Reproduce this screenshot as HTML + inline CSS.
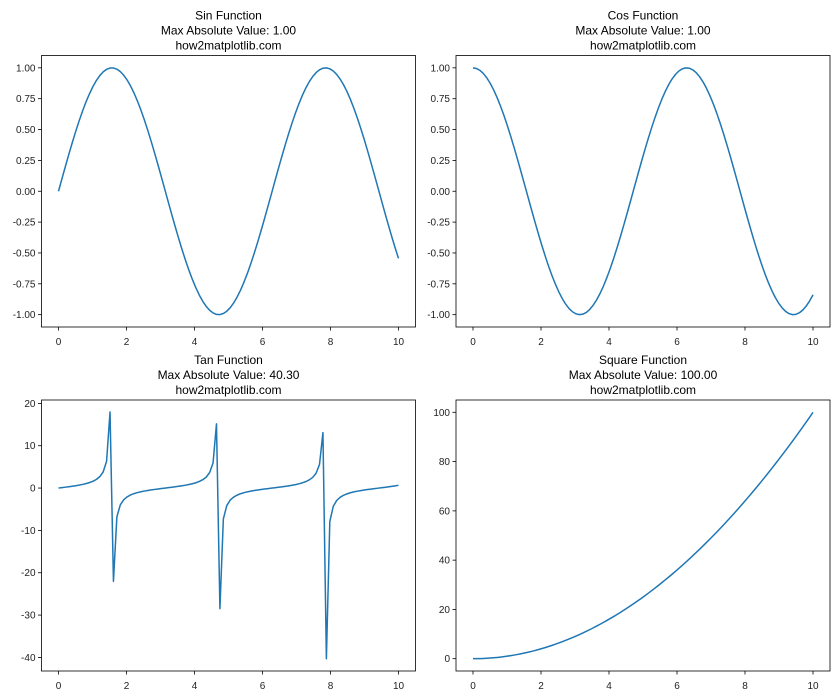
<!DOCTYPE html>
<html><head><meta charset="utf-8">
<style>
body{margin:0;background:#fff;}
svg{display:block;font-family:"Liberation Sans","DejaVu Sans",sans-serif;}
</style></head>
<body>
<svg id="s" width="840" height="700" xmlns="http://www.w3.org/2000/svg"></svg>
<script>
const S=document.getElementById('s');
let out='';
function ax(L,T,R,B,ymin,ymax,yt,fmt,f,titles){
  const W=R-L,H=B-T;
  const X=x=>L+(x+0.5)/11*W, Y=y=>B-(y-ymin)/(ymax-ymin)*H;
  let d='';
  for(let i=0;i<100;i++){const x=i*10/99;d+=(i?'L':'M')+X(x).toFixed(2)+' '+Y(f(x)).toFixed(2);}
  out+=`<path d="${d}" fill="none" stroke="#1f77b4" stroke-width="1.5" stroke-linejoin="round"/>`;
  out+=`<rect x="${L}" y="${T}" width="${W}" height="${H}" fill="none" stroke="#000" stroke-width="0.8"/>`;
  for(let x=0;x<=10;x+=2){const px=X(x);out+=`<line x1="${px}" x2="${px}" y1="${B}" y2="${B+3.5}" stroke="#000" stroke-width="0.8"/><text x="${px}" y="${B+18}" font-size="10" text-anchor="middle" fill="#222">${x}</text>`;}
  yt.forEach(v=>{const py=Y(v);out+=`<line x1="${L-3.5}" x2="${L}" y1="${py}" y2="${py}" stroke="#000" stroke-width="0.8"/><text x="${L-6}" y="${py+3.5}" font-size="10" text-anchor="end" fill="#222">${fmt(v)}</text>`;});
  const cx=(L+R)/2;
  titles.forEach((t,i)=>{out+=`<text x="${cx}" y="${T-36+i*15}" font-size="12" text-anchor="middle" fill="#000">${t}</text>`;});
}
const f2=v=>v.toFixed(2), f0=v=>String(v);
const sy=[-1,-0.75,-0.5,-0.25,0,0.25,0.5,0.75,1];
ax(41.5,55.5,415.5,327,-1.1,1.1,sy,f2,Math.sin,["Sin Function","Max Absolute Value: 1.00","how2matplotlib.com"]);
ax(456,55.5,830,327,-1.1,1.1,sy,f2,Math.cos,["Cos Function","Max Absolute Value: 1.00","how2matplotlib.com"]);
ax(41.5,400,415.5,671,-43.21,20.8,[-40,-30,-20,-10,0,10,20],f0,Math.tan,["Tan Function","Max Absolute Value: 40.30","how2matplotlib.com"]);
ax(456,400,830,671,-5,105,[0,20,40,60,80,100],f0,x=>x*x,["Square Function","Max Absolute Value: 100.00","how2matplotlib.com"]);
S.innerHTML=out;
</script>
</body></html>
